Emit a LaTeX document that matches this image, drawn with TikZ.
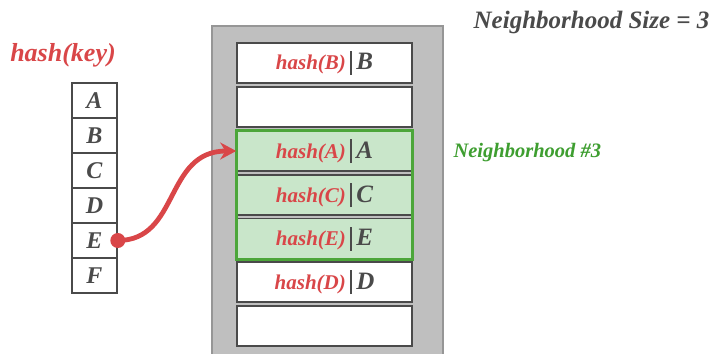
\documentclass[tikz,border=0pt]{standalone}
\usepackage{fontspec}
\setmainfont{Liberation Serif}
\usetikzlibrary{arrows.meta}
\definecolor{hred}{RGB}{217,70,72}
\definecolor{ink}{RGB}{74,74,74}
\definecolor{tablegray}{RGB}{191,191,191}
\definecolor{tableedge}{RGB}{150,150,150}
\definecolor{nbfill}{RGB}{201,230,202}
\definecolor{nbedge}{RGB}{76,166,58}
\definecolor{nbtext}{RGB}{62,158,48}
\newcommand{\slotentry}[1]{{\fontsize{21}{21}\selectfont\color{hred}hash(#1)}\hspace{4pt}{\color{ink}\rule[-5pt]{2.4pt}{24pt}}\hspace{4pt}{\fontsize{25}{25}\selectfont\color{ink}#1}}
\tikzset{
  keycell/.style={draw=ink, line width=1.6pt, fill=white, minimum width=45pt, minimum height=35pt, inner sep=0pt,
    font=\fontsize{24}{24}\selectfont\bfseries\itshape, text=ink},
  slot/.style={draw=ink, line width=1.6pt, fill=white, minimum width=175pt, minimum height=40pt, inner sep=0pt,
    font=\bfseries\itshape},
  nbslot/.style={slot, fill=nbfill},
  link/.style={draw=hred, line width=4.8pt, -{Stealth[length=16pt,width=17pt]}},
}
\begin{document}
\begin{tikzpicture}[x=1pt,y=-1pt]
  \clip (0,0) rectangle (714,353);
  \fill[white] (0,0) rectangle (714,353);

  % heading and labels
  \node[font=\fontsize{26}{26}\selectfont\bfseries\itshape, text=hred] (hk) at (63,55) {hash(key)};
  \node[font=\fontsize{25}{25}\selectfont\bfseries\itshape, text=ink, anchor=east] (nsize) at (713,22) {Neighborhood Size = 3};
  \node[font=\fontsize{20.5}{20.5}\selectfont\bfseries\itshape, text=nbtext, anchor=west] (nlabel) at (450,153) {Neighborhood \#3};

  % keys
  \node[keycell] (ka) at (94.5,100.5) {A};
  \node[keycell] (kb) at (94.5,135.5) {B};
  \node[keycell] (kc) at (94.5,170.5) {C};
  \node[keycell] (kd) at (94.5,205.5) {D};
  \node[keycell] (ke) at (94.5,240.5) {E};
  \node[keycell] (kf) at (94.5,275.5) {F};

  % hash table
  \draw[fill=tablegray, draw=tableedge, line width=1.5pt] (212,26) rectangle (443,370);
  \node[slot]   (s1) at (324.5,63)  {\slotentry{B}};
  \node[slot]   (s2) at (324.5,107) {};
  \node[nbslot] (s3) at (324.5,151) {\slotentry{A}};
  \node[nbslot] (s4) at (324.5,195) {\slotentry{C}};
  \node[nbslot] (s5) at (324.5,238.5) {\slotentry{E}};
  \node[slot]   (s6) at (324.5,282) {\slotentry{D}};
  \node[slot]   (s7) at (324.5,326) {};

  % neighborhood outline
  \draw[nbedge, line width=3pt] (s3.north west) rectangle (s5.south east);

  % lookup of E
  \node[circle, fill=hred, inner sep=0pt, minimum size=15pt] (dot) at (ke.east) {};
  \draw[link] (dot.center) .. controls +(62,0) and +(-72,0) .. (s3.west);
\end{tikzpicture}
\end{document}
